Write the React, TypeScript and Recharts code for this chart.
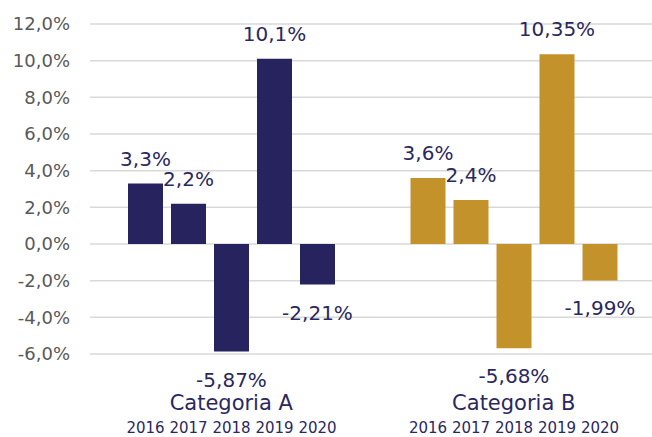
import React from 'react';
import { BarChart, Bar, XAxis, YAxis, CartesianGrid, Cell, LabelList } from 'recharts';

const categories = ['Categoria A', 'Categoria B'];
const years = ['2016', '2017', '2018', '2019', '2020'];
const seriesA = [3.3, 2.2, -5.87, 10.1, -2.21];
const seriesB = [3.6, 2.4, -5.68, 10.35, -1.99];
const yTicks = [-6, -4, -2, 0, 2, 4, 6, 8, 10, 12];

const categoryColors = ['#27235f', '#c4922b'];
const textColor = '#2a2860';
const FONT = '"DejaVu Sans", sans-serif';

const data = categories.map((category, ci) => {
  const vals = ci === 0 ? seriesA : seriesB;
  const row: Record<string, any> = { category };
  years.forEach((y, i) => {
    row['y' + y] = vals[i];
  });
  return row;
});

const W = 652;
const H = 437;
const MARGIN = { top: 24, right: -3, bottom: 0, left: 0 };
const X_AXIS_H = 83;
const PLOT_BOTTOM = H - MARGIN.bottom - X_AXIS_H;

const fmt = (v: number) => String(v).replace('.', ',') + '%';

const ValueLabel = (props: any) => {
  const { x, y, width, height, value } = props;
  const cx = Number(x) + Number(width) / 2;
  const top = Math.min(Number(y), Number(y) + Number(height));
  const bottom = Math.max(Number(y), Number(y) + Number(height));
  const ty = value >= 0 ? top - 18 : bottom + 35;
  return (
    <text x={cx} y={ty} textAnchor="middle" fill={textColor} fontSize={20} fontFamily={FONT}>
      {fmt(value)}
    </text>
  );
};

const makeYearLabel = (year: string) => (props: any) => {
  const { x, width } = props;
  const cx = Number(x) + Number(width) / 2;
  return (
    <text x={cx} y={PLOT_BOTTOM + 79} textAnchor="middle" fill={textColor} fontSize={15} fontFamily={FONT}>
      {year}
    </text>
  );
};

const CategoryTick = (props: any) => {
  const { x, y, payload } = props;
  return (
    <text x={x} y={y} dy={56} textAnchor="middle" fill={textColor} fontSize={21} fontFamily={FONT}>
      {payload.value}
    </text>
  );
};

export default function App() {
  return (
    <div style={{ position: 'absolute', left: 0, top: 0, width: W, height: H, overflow: 'hidden', background: '#fff' }}>
      <BarChart width={W} height={H} data={data} margin={MARGIN} barSize={35} barGap={8}>
        <CartesianGrid vertical={false} stroke="#d9d9d9" strokeWidth={1.5} />
        <XAxis
          dataKey="category"
          axisLine={false}
          tickLine={false}
          tickSize={0}
          tickMargin={0}
          height={X_AXIS_H}
          tick={<CategoryTick />}
          interval={0}
        />
        <YAxis
          width={90}
          domain={[-6, 12]}
          ticks={yTicks}
          axisLine={false}
          tickLine={false}
          tickSize={0}
          tickMargin={20}
          tickFormatter={(v: number) => v.toFixed(1).replace('.', ',') + '%'}
          tick={{ fill: '#595959', fontSize: 18, fontFamily: FONT }}
          interval={0}
        />
        {years.map((yr) => (
          <Bar key={yr} dataKey={'y' + yr} isAnimationActive={false}>
            {data.map((_, ci) => (
              <Cell key={ci} fill={categoryColors[ci]} />
            ))}
            <LabelList dataKey={'y' + yr} content={ValueLabel} />
            <LabelList dataKey={'y' + yr} content={makeYearLabel(yr)} />
          </Bar>
        ))}
      </BarChart>
    </div>
  );
}
